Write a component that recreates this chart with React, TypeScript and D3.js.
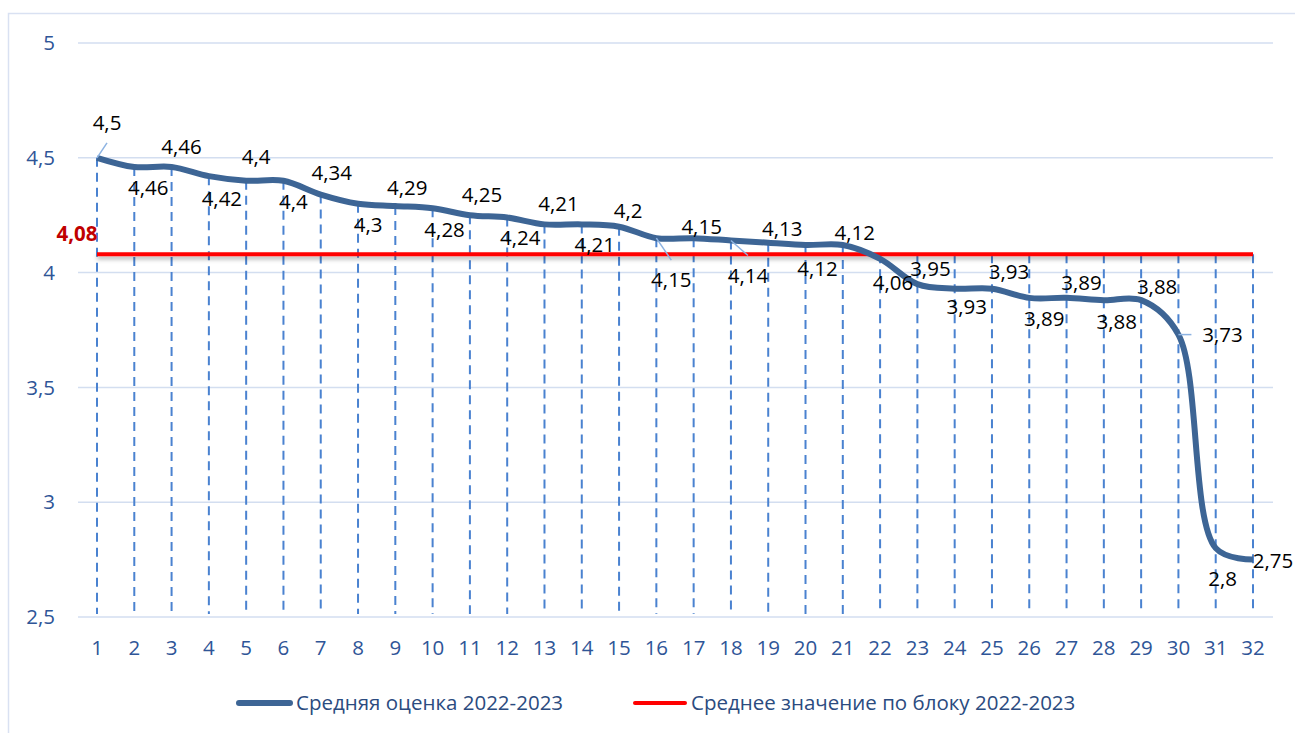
import React from "react";
import * as d3 from "d3";

// номера вопросов
const categories = [
  1, 2, 3, 4, 5, 6, 7, 8, 9, 10, 11, 12, 13, 14, 15, 16,
  17, 18, 19, 20, 21, 22, 23, 24, 25, 26, 27, 28, 29, 30, 31, 32,
];

// средняя оценка 2022-2023
const avgScores = [
  4.5, 4.46, 4.46, 4.42, 4.4, 4.4, 4.34, 4.3, 4.29, 4.28, 4.25, 4.24, 4.21, 4.21, 4.2, 4.15,
  4.15, 4.14, 4.13, 4.12, 4.12, 4.06, 3.95, 3.93, 3.93, 3.89, 3.89, 3.88, 3.88, 3.73, 2.8, 2.75,
];

// среднее по блоку
const blockAverage = 4.08;

const yTicks = [2.5, 3, 3.5, 4, 4.5, 5];
const seriesNames = ["Средняя оценка 2022-2023", "Среднее значение по блоку 2022-2023"];

// сдвиг подписей данных [dx, dy, выноска]
const labelShift: [number, number, number][] = [
  [10, -35, 1], [14, 21, 0], [10, -20, 0], [13, 23, 0], [10, -24, 0], [10, 21, 0],
  [11, -22, 0], [10, 21, 0], [12, -18, 0], [12, 22, 0], [12, -20, 0], [13, 20, 0],
  [14, -21, 0], [13, 20, 0], [9, -16, 0], [15, 42, 1], [8, -11, 0], [17, 35, 1],
  [14, -14, 0], [12, 24, 0], [12, -12, 0], [13, 24, 0], [13, -15, 0], [12, 18, 0],
  [17, -17, 0], [15, 21, 0], [15, -15, 0], [13, 22, 0], [16, -13, 0], [44, 0, 1],
  [7, 31, 0], [20, 1, 0],
];

const W = 1295;
const H = 733;
const FONT = "'Open Sans', 'Noto Sans', sans-serif";
const FS = 20.5;
const fmt = (v: number) => String(v).replace(".", ",");

export default function App() {
  const x = d3.scalePoint<number>().domain(categories).range([97, 1253]);
  const y = d3.scaleLinear().domain([2.5, 5]).range([617, 43]);

  const pts = categories.map((c, i) => ({ c, v: avgScores[i] }));
  const line = d3
    .line<{ c: number; v: number }>()
    .x((d) => x(d.c)!)
    .y((d) => y(d.v))
    .curve(d3.curveCatmullRom.alpha(0.5));

  const yAvg = y(blockAverage);
  const x0 = x(categories[0])!;
  const x1 = x(categories[categories.length - 1])!;

  return (
    <svg
      width={W}
      height={H}
      style={{ position: "absolute", left: 0, top: 0, background: "#fff" }}
      fontFamily={FONT}
    >
      <defs>
        <filter
          id="shadow"
          filterUnits="userSpaceOnUse"
          x={x0 - 10}
          y={yAvg - 10}
          width={x1 - x0 + 20}
          height={25}
        >
          <feDropShadow dx="0" dy="3" stdDeviation="2" floodColor="#000" floodOpacity="0.3" />
        </filter>
      </defs>

      {/* рамка */}
      <rect x={8.5} y={13.5} width={1300} height={740} fill="none" stroke="#d9e1f2" strokeWidth={1.5} />

      {/* сетка */}
      {yTicks.map((t) => (
        <g key={t}>
          <line x1={78} x2={1273} y1={y(t)} y2={y(t)} stroke="#d3def0" strokeWidth={1.5} />
          <text x={55} y={y(t)} dy="0.35em" textAnchor="end" fontSize={FS} fill="#2f5597">
            {fmt(t)}
          </text>
        </g>
      ))}

      {/* линии проекции */}
      {pts.map((d) => (
        <line
          key={d.c}
          x1={x(d.c)}
          x2={x(d.c)}
          y1={Math.min(y(d.v), yAvg)}
          y2={y(2.5) - 3}
          stroke="#4a82d0"
          strokeWidth={2}
          strokeDasharray="9,6"
        />
      ))}

      {/* среднее по блоку */}
      <line x1={x0} x2={x1} y1={yAvg} y2={yAvg} stroke="#ff0000" strokeWidth={4} filter="url(#shadow)" />
      <text
        x={x0 - 20}
        y={yAvg - 20}
        dy="0.35em"
        textAnchor="middle"
        fontSize={FS}
        fontWeight="bold"
        fill="#c00000"
      >
        {fmt(blockAverage)}
      </text>

      {/* средняя оценка */}
      <path d={line(pts) || ""} fill="none" stroke="#3d6595" strokeWidth={6} strokeLinejoin="round" />

      {/* подписи данных */}
      {pts.map((d, i) => {
        const [dx, dy, leader] = labelShift[i];
        const px = x(d.c)!;
        const py = y(d.v);
        const cx = px + dx;
        const cy = py + dy;
        let lx = cx;
        let ly = cy;
        if (leader) {
          if (Math.abs(dy) < Math.abs(dx)) lx = cx - 31;
          else ly = cy - Math.sign(dy) * 20;
        }
        return (
          <g key={d.c}>
            {leader ? <line x1={px} y1={py} x2={lx} y2={ly} stroke="#8db3e2" strokeWidth={1.5} /> : null}
            <text x={cx} y={cy} dy="0.35em" textAnchor="middle" fontSize={FS} fill="#000">
              {fmt(d.v)}
            </text>
          </g>
        );
      })}

      {/* ось X */}
      {categories.map((c) => (
        <text key={c} x={x(c)} y={648} dy="0.35em" textAnchor="middle" fontSize={FS} fill="#2f5597">
          {c}
        </text>
      ))}

      {/* легенда */}
      <line x1={239} x2={290} y1={703} y2={703} stroke="#3d6595" strokeWidth={6} strokeLinecap="round" />
      <text x={296} y={703} dy="0.35em" fontSize={FS} fill="#2b4b80">
        {seriesNames[0]}
      </text>
      <line x1={635} x2={685} y1={703} y2={703} stroke="#ff0000" strokeWidth={4} strokeLinecap="round" />
      <text x={691} y={703} dy="0.35em" fontSize={FS} fill="#2b4b80">
        {seriesNames[1]}
      </text>
    </svg>
  );
}
